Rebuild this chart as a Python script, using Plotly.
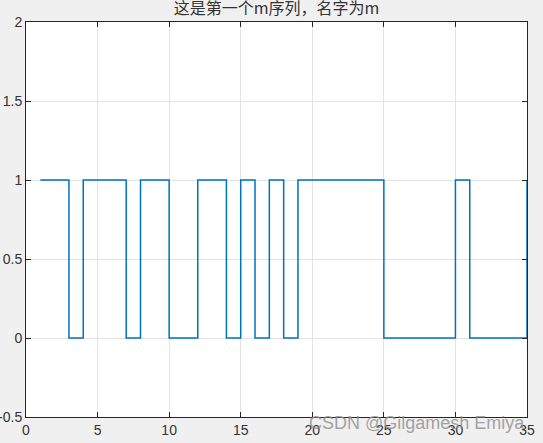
import plotly.graph_objects as go

# m sequence (stairs plot, index starts at 1)
n_idx = list(range(1, 36))
m_seq = [1, 1, 0, 1, 1, 1, 0, 1, 1, 0, 0, 1, 1, 0, 1, 0, 1, 0,
         1, 1, 1, 1, 1, 1, 0, 0, 0, 0, 0, 1, 0, 0, 0, 0, 1]

x_ticks = [0, 5, 10, 15, 20, 25, 30, 35]
y_ticks = [-0.5, 0, 0.5, 1, 1.5, 2]

title_text = "这是第一个m序列，名字为m"
mark_text = "CSDN @Gilgamesh Emiya"

axis_color = "#262626"
font_fam = "Liberation Sans, Arial, Noto Sans CJK SC"

fig = go.Figure()
fig.add_trace(go.Scatter(x=n_idx, y=m_seq, mode="lines", line_shape="hv",
                         line=dict(color="#0072BD", width=1.5),
                         showlegend=False, hoverinfo="skip"))

axis_common = dict(showline=True, linecolor=axis_color, linewidth=1, mirror="ticks",
                   ticks="inside", ticklen=5, tickcolor=axis_color,
                   showgrid=True, gridcolor="#E3E3E3", gridwidth=1,
                   zeroline=False, automargin=False,
                   tickfont=dict(family=font_fam, size=14, color="#333333"))

fig.update_xaxes(range=[0, 35], tickvals=x_ticks, **axis_common)
fig.update_yaxes(range=[-0.5, 2], tickvals=y_ticks,
                 ticktext=[str(v) for v in y_ticks], **axis_common)

fig.update_layout(
    width=543, height=443,
    margin=dict(l=26, r=16, t=22, b=26, autoexpand=False),
    paper_bgcolor="#F0F0F0", plot_bgcolor="white",
    title=dict(text=title_text, x=0.5, xref="paper", y=0.981, yanchor="middle",
               font=dict(family="Noto Sans CJK SC", size=16, color="#333333")),
)

# watermark in the bottom right corner
fig.add_annotation(text=mark_text, xref="paper", yref="paper", x=1.0, y=-0.015,
                   xanchor="right", yanchor="middle", showarrow=False,
                   font=dict(family="Liberation Sans, Arial", size=18, color="rgba(140,140,140,0.8)"))

# drop the default page margin so the figure sits at the window corner
fig.write_html("out.html", config={"displayModeBar": False},
               post_script="document.body.style.margin='0';")
